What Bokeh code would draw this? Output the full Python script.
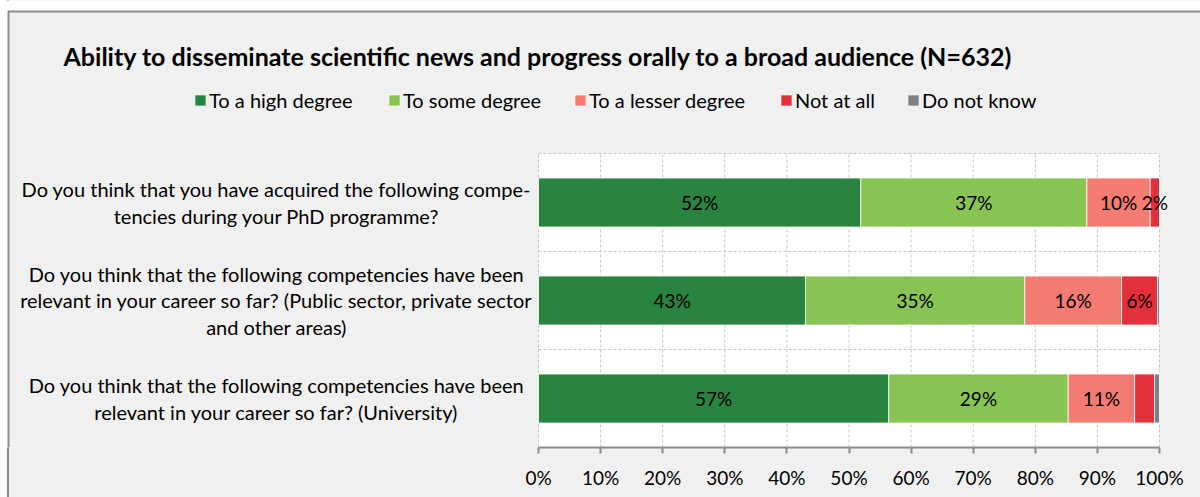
from bokeh.plotting import figure
from bokeh.models import (ColumnDataSource, Legend, LegendItem, FixedTicker,
                          NumeralTickFormatter, Range1d)
from bokeh.core.properties import value
from bokeh.embed import file_html
from bokeh.resources import INLINE

# ---------------- data ----------------
questions = [
    "Do you think that you have acquired the following compe-\ntencies during your PhD programme?",
    "Do you think that the following competencies have been\nrelevant in your career so far? (Public sector, private sector\nand other areas)",
    "Do you think that the following competencies have been\nrelevant in your career so far? (University)",
]
series_names = ["To a high degree", "To some degree", "To a lesser degree", "Not at all", "Do not know"]
high = [51.9, 43.0, 56.4]
some = [36.4, 35.3, 28.9]
lesser = [10.2, 15.6, 10.7]
not_at_all = [1.5, 5.8, 3.2]
dont_know = [0.0, 0.3, 0.8]
high_lbl = ["52%", "43%", "57%"]
some_lbl = ["37%", "35%", "29%"]
lesser_lbl = ["10%", "16%", "11%"]
not_lbl = ["2%", "6%", ""]
dk_lbl = ["", "", ""]
x_ticks = [0, 10, 20, 30, 40, 50, 60, 70, 80, 90, 100]
title_text = "Ability to disseminate scientific news and progress orally to a broad audience (N=632)"

colors = ["#2A8441", "#87C453", "#F47B72", "#E2303D", "#808085"]
FONT = "Lato"

# ---------------- layout (pixels) ----------------
W, H = 1200, 497
PX0, PX1 = 538, 1159        # 0% and 100% positions
PY_BOT, PY_TOP = 447, 153   # bottom / top of the plotting area
n = len(questions)
ppu_x = (PX1 - PX0)
ppu_y = (PY_BOT - PY_TOP) / n


def X(px):
    return (px - PX0) / ppu_x


def Y(py):
    return (PY_BOT - py) / ppu_y


series = [high, some, lesser, not_at_all, dont_know]
labels = [high_lbl, some_lbl, lesser_lbl, not_lbl, dk_lbl]
ypos = [n - i - 0.5 for i in range(n)]  # first question on top

p = figure(width=W, height=H, output_backend="svg", toolbar_location=None,
           x_range=Range1d(X(0), X(W)), y_range=Range1d(0, Y(0)),
           y_axis_location=None, title=None,
           min_border_left=0, min_border_right=0, min_border_top=0, min_border_bottom=H - PY_BOT)
p.border_fill_color = None
p.styles = {"background": "linear-gradient(to right, white 7px, #8C8C8C 7px, #8C8C8C 9px, #F0F0F0 9px)"}
p.background_fill_color = "white"
p.outline_line_color = None
p.xgrid.visible = False
p.ygrid.visible = False

# chart area background + border
p.quad(left=X(7), right=X(W + 5), bottom=Y(PY_BOT + 5), top=Y(11), fill_color="#F0F0F0",
       line_color=None)
p.line(x=[X(8), X(8), X(W + 5)], y=[Y(PY_BOT + 5), Y(11), Y(11)], line_color="#8C8C8C",
       line_width=2)
# plot area
p.quad(left=0, right=1, bottom=0, top=n, fill_color="white", line_color=None)

# grid lines (dashed)
gx = [t / 100 for t in x_ticks]
p.segment(x0=gx, x1=gx, y0=[0] * len(gx), y1=[n] * len(gx), line_color="#C8C8C8",
          line_dash="3 2", line_width=1)
gy = list(range(1, n + 1))
p.segment(x0=[0] * len(gy), x1=[1] * len(gy), y0=gy, y1=gy, line_color="#C8C8C8",
          line_dash="3 2", line_width=1)

# bars
data = {"y": ypos}
keys = []
for k, vals in enumerate(series):
    key = f"s{k}"
    keys.append(key)
    data[key] = [v / 100 for v in vals]
src = ColumnDataSource(data)
renderers = p.hbar_stack(keys, y="y", height=0.5, color=colors, source=src,
                         line_color="white", line_width=0.8)

# segment labels
lx, ly, lt = [], [], []
cum = [0.0] * n
for vals, lbls in zip(series, labels):
    for i in range(n):
        left = cum[i]
        cum[i] += vals[i] / 100
        if lbls[i]:
            lx.append((left + cum[i]) / 2)
            ly.append(ypos[i])
            lt.append(lbls[i])
p.text(x=lx, y=ly, text=lt, text_align="center", text_baseline="middle",
       text_font=value(FONT), text_font_size="19px", text_color="#000000")

# question labels
p.text(x=[X(276)] * n, y=ypos, text=questions, text_align="center", text_baseline="middle",
       text_font=value(FONT), text_font_size="20px", text_color="#000000",
       text_line_height=1.1)

# title
p.text(x=[X(537.5)], y=[Y(55)], text=[title_text], text_align="center", text_baseline="middle",
       text_font=value(FONT), text_font_size="25px", text_font_style="bold",
       text_color="#000000")

# x axis
xa = p.xaxis[0]
xa.bounds = (0, 1)
xa.ticker = FixedTicker(ticks=gx)
xa.formatter = NumeralTickFormatter(format="0%")
xa.axis_line_color = "#8C8C8C"
xa.axis_line_width = 2
xa.major_tick_line_color = "#8C8C8C"
xa.major_tick_line_width = 2
xa.major_tick_out = 6
xa.major_tick_in = 0
xa.minor_tick_line_color = None
xa.major_label_text_font = FONT
xa.major_label_text_font_size = "19px"
xa.major_label_text_color = "#000000"
xa.major_label_standoff = 12

# legend: one legend per item for exact placement
leg_x = [193, 387, 573, 779, 906]
for name, r, lxp in zip(series_names, renderers, leg_x):
    lg = Legend(items=[LegendItem(label=name, renderers=[r])],
                location=(lxp, PY_BOT - 112),
                orientation="horizontal", glyph_width=14, glyph_height=14,
                label_standoff=2, padding=0, margin=0, spacing=0,
                border_line_color=None, background_fill_alpha=0,
                label_text_font=FONT, label_text_font_size="20px", label_text_color="#000000",
                label_height=14)
    p.add_layout(lg, "center")

open("out.html", "w").write(file_html(p, INLINE))
